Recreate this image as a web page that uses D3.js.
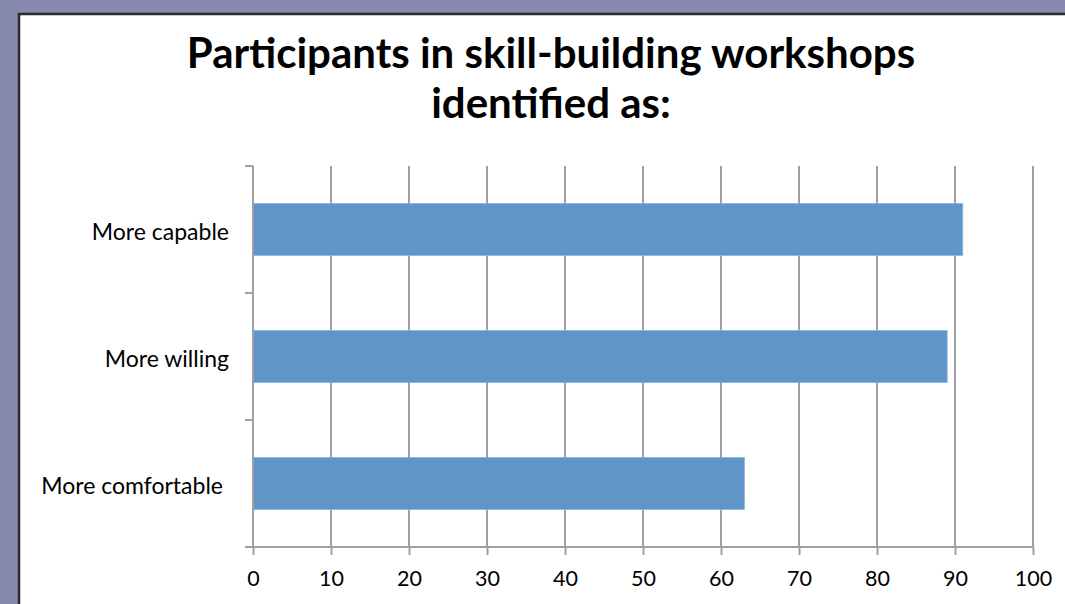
<!DOCTYPE html>
<html>
<style>
body { margin: 0; background: #8689ad; }
</style>
<body>
<script src="https://cdn.jsdelivr.net/npm/d3@7"></script>
<script>
var categories = ["More capable", "More willing", "More comfortable"];
var values = [91, 89, 63];
var xTicks = [0, 10, 20, 30, 40, 50, 60, 70, 80, 90, 100];
var title = ["Participants in skill-building workshops", "identified as:"];

var width = 1065, height = 604;
var plotLeft = 253, plotRight = 1033, plotTop = 166, plotBottom = 547;
var font = "Lato, 'Open Sans', sans-serif";

var svg = d3.select("body")
  .append("svg")
  .attr("width", width)
  .attr("height", height)
  .style("display", "block");

svg.append("rect")
  .attr("width", width).attr("height", height)
  .attr("fill", "#8689ad");

// white panel
svg.append("rect")
  .attr("x", 19).attr("y", 14)
  .attr("width", width).attr("height", height)
  .attr("fill", "#fff")
  .attr("stroke", "#2a2a2a")
  .attr("stroke-width", 2.5);

svg.append("text")
  .attr("text-anchor", "middle")
  .attr("font-family", font)
  .attr("font-weight", "bold")
  .attr("font-size", 42)
  .attr("fill", "#000")
  .selectAll("tspan")
  .data(title)
  .enter().append("tspan")
  .attr("x", 551)
  .attr("y", function(d, i) { return 68 + i * 50; })
  .text(function(d) { return d; });

var x = d3.scaleLinear().domain([0, 100]).range([plotLeft, plotRight]);
var y = d3.scaleBand().domain(categories).range([plotTop, plotBottom]).paddingInner(0.59).paddingOuter(0.295);

// gridlines
svg.append("g")
  .selectAll("line")
  .data(xTicks.slice(1))
  .enter().append("line")
  .attr("x1", function(d) { return x(d); })
  .attr("x2", function(d) { return x(d); })
  .attr("y1", plotTop).attr("y2", plotBottom)
  .attr("stroke", "#a0a0a0")
  .attr("stroke-width", 2);

svg.append("g")
  .selectAll("rect")
  .data(values)
  .enter().append("rect")
  .attr("x", x(0))
  .attr("y", function(d, i) { return y(categories[i]); })
  .attr("width", function(d) { return x(d) - x(0); })
  .attr("height", y.bandwidth())
  .attr("fill", "#6095ca")
  .attr("stroke", "#8fb6dd")
  .attr("stroke-width", 0.8);

// x axis
var xAxis = svg.append("g")
  .attr("transform", "translate(0," + plotBottom + ")")
  .call(d3.axisBottom(x).tickValues(xTicks).tickSize(8).tickPadding(16).tickSizeOuter(0));
xAxis.select(".domain").attr("stroke", "#a0a0a0").attr("stroke-width", 2)
  .attr("d", "M" + (plotLeft - 8) + ",0H" + plotRight);
xAxis.selectAll(".tick line").attr("stroke", "#a0a0a0").attr("stroke-width", 2);
xAxis.selectAll("text")
  .attr("font-family", font)
  .attr("font-size", 21.5)
  .attr("fill", "#000");

// y axis
var bandTicks = d3.range(categories.length).map(function(i) { return plotTop + i * y.step(); });
svg.append("line")
  .attr("x1", plotLeft).attr("x2", plotLeft)
  .attr("y1", plotTop).attr("y2", plotBottom)
  .attr("stroke", "#a0a0a0").attr("stroke-width", 2);
svg.append("g")
  .selectAll("line")
  .data(bandTicks)
  .enter().append("line")
  .attr("x1", plotLeft - 8).attr("x2", plotLeft)
  .attr("y1", function(d) { return d; })
  .attr("y2", function(d) { return d; })
  .attr("stroke", "#a0a0a0").attr("stroke-width", 2);

svg.append("g")
  .selectAll("text")
  .data(categories)
  .enter().append("text")
  .attr("x", function(d, i) { return i === 2 ? 223 : 229; })
  .attr("y", function(d) { return y(d) + y.bandwidth() / 2; })
  .attr("dy", "0.45em")
  .attr("text-anchor", "end")
  .attr("font-family", font)
  .attr("font-size", 23)
  .attr("fill", "#000")
  .text(function(d) { return d; });
</script>
</body>
</html>
